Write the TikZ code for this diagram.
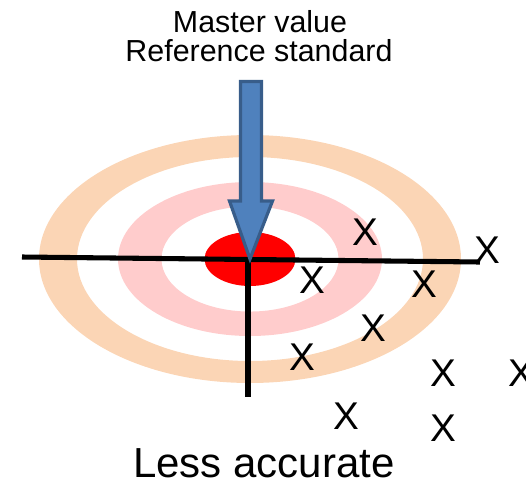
\documentclass[tikz,border=0pt]{standalone}
\usepackage{fontspec}
\setmainfont{Liberation Sans}
\usepackage{tikz}
\usetikzlibrary{positioning}
\definecolor{ringorange}{RGB}{251,213,181}
\definecolor{ringpink}{RGB}{255,204,204}
\definecolor{bullred}{RGB}{255,0,0}
\definecolor{arrowblue}{RGB}{79,129,189}
\definecolor{arrowedge}{RGB}{56,93,138}
\tikzset{
  axis/.style  ={draw=black, line width=3.8pt},
  hit/.style   ={inner sep=0pt, font=\fontsize{29}{32}\selectfont},
  title/.style ={inner sep=0pt, anchor=base, font=\fontsize{22.8}{27}\selectfont},
  verdict/.style={inner sep=0pt, anchor=base, font=\fontsize{31.5}{36}\selectfont},
  pointer/.style={fill=arrowblue, draw=arrowedge, line width=2.4pt, line join=miter}
}
\begin{document}
\begin{tikzpicture}[x=0.75pt, y=-0.75pt]
\useasboundingbox (0,0) rectangle (526,480);
\coordinate (ctr) at (250,259);

% target rings
\fill[ringorange, even odd rule] (ctr) ellipse [x radius=158.25pt, y radius=93pt]
  (ctr) ellipse [x radius=129.75pt, y radius=76.5pt];
\fill[ringpink, even odd rule] (ctr) ellipse [x radius=99pt, y radius=57.75pt]
  (ctr) ellipse [x radius=66.4pt, y radius=39.4pt];
\fill[bullred] (ctr) ellipse [x radius=34.1pt, y radius=20.25pt];

% axes
\coordinate (west) at (22,257);
\coordinate (east) at (480,262);
\coordinate (top) at (248,258);
\coordinate (south) at (248,397);
\draw[axis] (west) -- (east);
\draw[axis] (top) -- (south);

% reference arrow
\draw[pointer] (240.5,81.5) -- (261.5,81.5) -- (261.5,201) -- (272.5,201)
  -- (ctr) -- (229.5,201) -- (240.5,201) -- cycle;

\node[title] (master) at (260,32) {Master value};
\node[title] (refstd) at (259,61) {Reference standard};

% measurements
\node[hit] (x1) at (365,232) {X};
\node[hit] (x2) at (487,250) {X};
\node[hit] (x3) at (312,280) {X};
\node[hit] (x4) at (424,284) {X};
\node[hit] (x5) at (373,328) {X};
\node[hit] (x6) at (302,357) {X};
\node[hit] (x7) at (443,373) {X};
\node[hit] (x8) at (521,373) {X};
\node[hit] (x9) at (346,416) {X};
\node[hit] (x10) at (443,428) {X};

\node[verdict] (less) at (264,477) {Less accurate};
\end{tikzpicture}
\end{document}
